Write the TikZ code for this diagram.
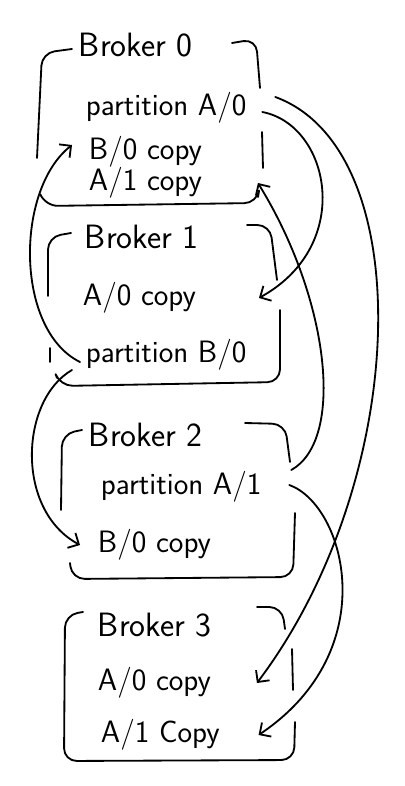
\documentclass[tikz,border=0pt]{standalone}
\usepackage{tikz}
\usetikzlibrary{arrows.meta,positioning,calc}

\tikzset{
  title/.style={font=\sffamily\fontsize{24}{28}\selectfont,anchor=west,inner sep=0pt},
  item/.style={font=\sffamily\fontsize{22}{26}\selectfont,anchor=west,inner sep=0pt},
  frame/.style={rounded corners=9pt}
}

\begin{document}
\begin{tikzpicture}[x=0.025cm,y=-0.025cm,>={Straight Barb[length=6pt,width=12pt]},line width=1.3pt,line cap=round,line join=round]
  \useasboundingbox (0,0) rectangle (404,786);

  \node[title] (b0title) at (78,45) {Broker 0};
  \node[item] (b0pA0) at (85,108) {partition A/0};
  \node[item] (b0cB0) at (88,152) {B/0 copy};
  \node[item] (b0cA1) at (88,183) {A/1 copy};
  \draw[frame] (72,49) -- (42,53) -- (37,158);
  \draw[frame] (232,43) -- (256,39) -- (260,88);
  \draw (262,132) -- (263,168);
  \draw[frame] (41,196) -- (45,206) -- (257,203) -- (258,197);

  \node[title] (b1title) at (84,237) {Broker 1};
  \node[item] (b1cA0) at (82,298) {A/0 copy};
  \node[item] (b1pB0) at (85,355) {partition B/0};
  \draw[frame] (71,233) -- (48,237) -- (48,296);
  \draw (50,348) -- (50,362);
  \draw[frame] (247,225) -- (270,225) -- (277,280);
  \draw[frame] (280,310) -- (280,382) -- (60,386) -- (57,378);

  \node[title] (b2title) at (88,435) {Broker 2};
  \node[item] (b2pA1) at (100,487) {partition A/1};
  \node[item] (b2cB0) at (97,545) {B/0 copy};
  \draw[frame] (82,430) -- (62,434) -- (61,510);
  \draw[frame] (245,423) -- (285,424) -- (290,462);
  \draw[frame] (295,513) -- (293,577) -- (72,579) -- (70,563);

  \node[title] (b3title) at (97,625) {Broker 3};
  \node[item] (b3cA0) at (97,683) {A/0 copy};
  \node[item] (b3cA1) at (100,735) {A/1 Copy};
  \draw[frame] (83,612) -- (65,615) -- (64,761) -- (294,760) -- (295,722);
  \draw[frame] (257,607) -- (282,607) -- (285,629);
  \draw (292,649) -- (293,690);

  \draw[->] ([shift={(15,4)}]b0pA0.east) .. controls (330,125) and (355,245) .. ([shift={(62,0)}]b1cA0.east);
  \draw[->] ([shift={(28,-11)}]b0pA0.east) .. controls (420,150) and (410,480) .. ([shift={(45,0)}]b3cA0.east);
  \draw[->] ([shift={(29,-17)}]b2pA1.east) .. controls (345,440) and (330,300) .. ([shift={(55,0)}]b0cA1.east);
  \draw[->] ([shift={(27,-2)}]b2pA1.east) .. controls (345,505) and (385,650) .. ([shift={(38,0)}]b3cA1.east);
  \draw[->] ([shift={(-5,7)}]b1pB0.west) .. controls (15,330) and (15,190) .. ([shift={(-16,-7)}]b0cB0.west);
  \draw[->] ([shift={(-13,15)}]b1pB0.west) .. controls (20,400) and (15,510) .. ([shift={(-17,0)}]b2cB0.west);
\end{tikzpicture}
\end{document}
